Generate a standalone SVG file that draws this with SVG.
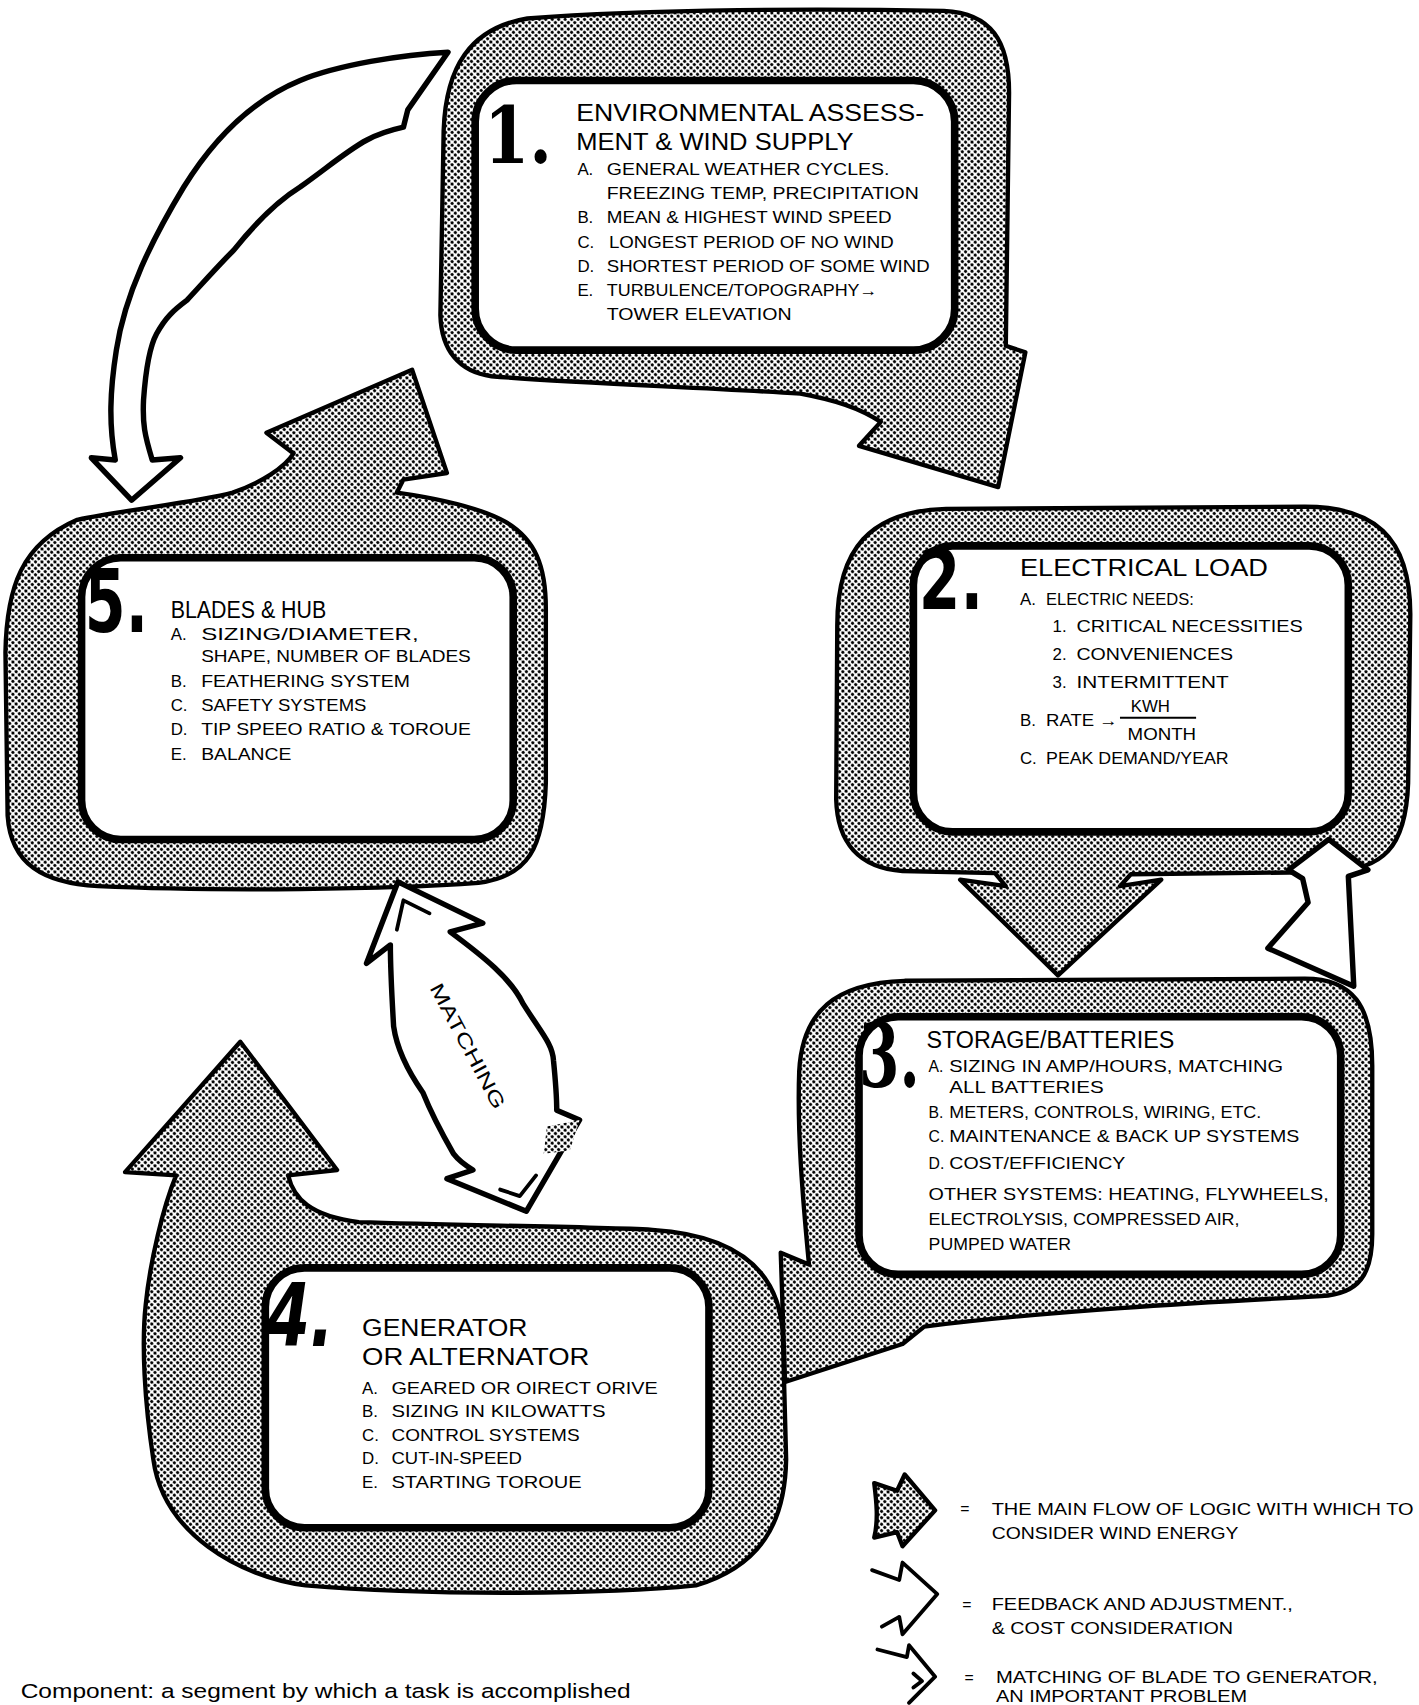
<svg xmlns="http://www.w3.org/2000/svg" width="1419" height="1705" viewBox="0 0 1419 1705">
<defs>
<pattern id="ht" width="4.2" height="4.2" patternUnits="userSpaceOnUse" patternTransform="rotate(45)">
<rect width="4.2" height="4.2" fill="#fff"/>
<circle cx="2.1" cy="2.1" r="1.5" fill="#000"/>
</pattern>
</defs>
<style>
.gray{fill:url(#ht);stroke:#000;stroke-width:4;stroke-linejoin:round}
.box{fill:#fff;stroke:#000;stroke-width:7}
.wa{fill:#fff;stroke:#000;stroke-width:5;stroke-linejoin:round}
.ln{fill:none;stroke:#000;stroke-width:3.5;stroke-linejoin:round;stroke-linecap:round}
.t{font-family:"Liberation Sans",Arial,sans-serif;fill:#000}
.ti{font-size:22px}
.it{font-size:15.5px}
.sm{font-size:14.5px}
.num{font-family:"DejaVu Sans",sans-serif;font-weight:bold;font-size:50px;fill:#000}
.nums{font-family:"DejaVu Serif",serif;font-weight:bold;font-size:50px;fill:#000}
</style>
<rect width="1419" height="1705" fill="#fff"/>
<g transform="scale(1.08736)">

<g id="node4">
<path class="gray" d="M221,958 L310,1076 L265,1081 C270,1102 285,1118 330,1124 C420,1127 540,1128 600,1131 C680,1136 718,1170 720,1230 L723,1342 C722,1400 700,1440 640,1458 C560,1466 400,1468 281,1458 C220,1450 150,1410 141,1342 C133,1290 130,1236 134,1200 C138,1160 150,1110 162,1081 L115,1078 Z"/>
<rect class="box" x="244" y="1166" width="408" height="239" rx="36"/>
<text class="num" font-style="italic" transform="translate(245,1238) scale(1.15,1.6)">4.</text>
<text class="t ti" x="333" y="1229" textLength="152" lengthAdjust="spacingAndGlyphs">GENERATOR</text>
<text class="t ti" x="333" y="1255" textLength="209" lengthAdjust="spacingAndGlyphs">OR ALTERNATOR</text>
<text class="t it" y="1282"><tspan x="333">A.</tspan><tspan x="360" textLength="245" lengthAdjust="spacingAndGlyphs">GEARED OR OIRECT ORIVE</tspan></text>
<text class="t it" y="1303"><tspan x="333">B.</tspan><tspan x="360" textLength="197" lengthAdjust="spacingAndGlyphs">SIZING IN KILOWATTS</tspan></text>
<text class="t it" y="1325"><tspan x="333">C.</tspan><tspan x="360" textLength="173" lengthAdjust="spacingAndGlyphs">CONTROL SYSTEMS</tspan></text>
<text class="t it" y="1346"><tspan x="333">D.</tspan><tspan x="360" textLength="120" lengthAdjust="spacingAndGlyphs">CUT-IN-SPEED</tspan></text>
<text class="t it" y="1368"><tspan x="333">E.</tspan><tspan x="360" textLength="175" lengthAdjust="spacingAndGlyphs">STARTING TOROUE</tspan></text>
</g>

<g id="node3">
<path class="gray" d="M735,985 C738,930 768,904 832,902 L1200,900 C1244,900 1262,925 1262,980 L1262,1135 C1262,1172 1250,1190 1215,1192 C1100,1198 960,1206 850,1220 L830,1236 L722,1271 L718,1152 L744,1163 C738,1100 733,1040 735,985 Z"/>
<rect class="box" x="790" y="935" width="443" height="237" rx="36"/>
<text class="nums" transform="translate(790,1000) scale(1.07,1.62)">3.</text>
<text class="t ti" x="852" y="964" textLength="228" lengthAdjust="spacingAndGlyphs">STORAGE/BATTERIES</text>
<text class="t sm" y="986"><tspan x="854">A.</tspan><tspan x="873" textLength="307" lengthAdjust="spacingAndGlyphs">SIZING IN AMP/HOURS, MATCHING</tspan></text>
<text class="t sm" x="873" y="1005" textLength="142" lengthAdjust="spacingAndGlyphs">ALL BATTERIES</text>
<text class="t sm" y="1028"><tspan x="854">B.</tspan><tspan x="873" textLength="287" lengthAdjust="spacingAndGlyphs">METERS, CONTROLS, WIRING, ETC.</tspan></text>
<text class="t sm" y="1050"><tspan x="854">C.</tspan><tspan x="873" textLength="322" lengthAdjust="spacingAndGlyphs">MAINTENANCE &amp; BACK UP SYSTEMS</tspan></text>
<text class="t sm" y="1075"><tspan x="854">D.</tspan><tspan x="873" textLength="162" lengthAdjust="spacingAndGlyphs">COST/EFFICIENCY</tspan></text>
<text class="t sm" x="854" y="1104" textLength="368" lengthAdjust="spacingAndGlyphs">OTHER SYSTEMS: HEATING, FLYWHEELS,</text>
<text class="t sm" x="854" y="1127" textLength="286" lengthAdjust="spacingAndGlyphs">ELECTROLYSIS, COMPRESSED AIR,</text>
<text class="t sm" x="854" y="1150" textLength="131" lengthAdjust="spacingAndGlyphs">PUMPED WATER</text>
</g>

<g id="node2">
<path class="gray" d="M770,575 C770,505 800,470 870,468 L1200,466 C1262,466 1297,492 1297,565 L1295,720 C1293,780 1272,800 1222,802 L1040,804 L1030,815 L1068,809 L973,897 L883,809 L925,815 L915,803 L830,801 C790,798 770,775 769,735 Z"/>
<rect class="box" x="840" y="502" width="400" height="263" rx="36"/>
<text class="num" transform="translate(845,560) scale(1.1,1.55)">2.</text>
<text class="t ti" x="938" y="530" textLength="228" lengthAdjust="spacingAndGlyphs">ELECTRICAL LOAD</text>
<text class="t it" y="556"><tspan x="938">A.</tspan><tspan x="962" textLength="136" lengthAdjust="spacingAndGlyphs">ELECTRIC NEEDS:</tspan></text>
<text class="t it" y="581"><tspan x="968">1.</tspan><tspan x="990" textLength="208" lengthAdjust="spacingAndGlyphs">CRITICAL NECESSITIES</tspan></text>
<text class="t it" y="607"><tspan x="968">2.</tspan><tspan x="990" textLength="144" lengthAdjust="spacingAndGlyphs">CONVENIENCES</tspan></text>
<text class="t it" y="633"><tspan x="968">3.</tspan><tspan x="990" textLength="140" lengthAdjust="spacingAndGlyphs">INTERMITTENT</tspan></text>
<text class="t it" y="668"><tspan x="938">B.</tspan><tspan x="962" textLength="66" lengthAdjust="spacingAndGlyphs">RATE →</tspan></text>
<text class="t sm" x="1040" y="655" textLength="36" lengthAdjust="spacingAndGlyphs">KWH</text>
<line x1="1030" y1="660" x2="1100" y2="660" stroke="#000" stroke-width="1.8"/>
<text class="t sm" x="1037" y="681" textLength="63" lengthAdjust="spacingAndGlyphs">MONTH</text>
<text class="t it" y="703"><tspan x="938">C.</tspan><tspan x="962" textLength="168" lengthAdjust="spacingAndGlyphs">PEAK DEMAND/YEAR</tspan></text>
</g>

<g id="node5">
<path class="gray" d="M379,340 L411,435 L371,441 L365,453 C400,458 440,466 465,480 C492,496 502,520 502,560 L502,720 C500,780 486,806 440,812 C360,818 200,820 90,815 C40,812 10,795 7,750 L5,600 C6,540 20,500 71,478 C120,468 180,462 214,453 C240,444 262,430 270,417 L245,398 Z"/>
<rect class="box" x="75" y="513" width="397" height="259" rx="36"/>
<text class="num" transform="translate(78,581) scale(1.08,1.6)">5.</text>
<text class="t ti" x="157" y="568" textLength="143" lengthAdjust="spacingAndGlyphs">BLADES &amp; HUB</text>
<text class="t it" y="589"><tspan x="157">A.</tspan><tspan x="185" textLength="200" lengthAdjust="spacingAndGlyphs">SIZING/DIAMETER,</tspan></text>
<text class="t it" x="185" y="609" textLength="248" lengthAdjust="spacingAndGlyphs">SHAPE, NUMBER OF BLADES</text>
<text class="t it" y="632"><tspan x="157">B.</tspan><tspan x="185" textLength="192" lengthAdjust="spacingAndGlyphs">FEATHERING SYSTEM</tspan></text>
<text class="t it" y="654"><tspan x="157">C.</tspan><tspan x="185" textLength="152" lengthAdjust="spacingAndGlyphs">SAFETY SYSTEMS</tspan></text>
<text class="t it" y="676"><tspan x="157">D.</tspan><tspan x="185" textLength="248" lengthAdjust="spacingAndGlyphs">TIP SPEEO RATIO &amp; TOROUE</tspan></text>
<text class="t it" y="699"><tspan x="157">E.</tspan><tspan x="185" textLength="83" lengthAdjust="spacingAndGlyphs">BALANCE</tspan></text>
</g>

<g id="node1">
<path class="gray" d="M408,120 C410,62 432,26 485,17 C600,8 760,8 868,10 C912,12 928,38 928,85 L925,318 L943,324 L918,448 L790,410 L810,388 C790,375 768,368 736,362 C640,356 520,352 452,346 C422,342 406,322 405,290 Z"/>
<rect class="box" x="437" y="74" width="441" height="248" rx="38"/>
<text class="nums" transform="translate(445,150) scale(1.2,1.45)">1.</text>
<text class="t ti" x="530" y="111" textLength="320" lengthAdjust="spacingAndGlyphs">ENVIRONMENTAL ASSESS-</text>
<text class="t ti" x="530" y="138" textLength="255" lengthAdjust="spacingAndGlyphs">MENT &amp; WIND SUPPLY</text>
<text class="t it" y="161"><tspan x="531">A.</tspan><tspan x="558" textLength="260" lengthAdjust="spacingAndGlyphs">GENERAL WEATHER CYCLES.</tspan></text>
<text class="t it" x="558" y="183" textLength="287" lengthAdjust="spacingAndGlyphs">FREEZING TEMP, PRECIPITATION</text>
<text class="t it" y="205"><tspan x="531">B.</tspan><tspan x="558" textLength="262" lengthAdjust="spacingAndGlyphs">MEAN &amp; HIGHEST WIND SPEED</tspan></text>
<text class="t it" y="228"><tspan x="531">C.</tspan><tspan x="560" textLength="262" lengthAdjust="spacingAndGlyphs">LONGEST PERIOD OF NO WIND</tspan></text>
<text class="t it" y="250"><tspan x="531">D.</tspan><tspan x="558" textLength="297" lengthAdjust="spacingAndGlyphs">SHORTEST PERIOD OF SOME WIND</tspan></text>
<text class="t it" y="272"><tspan x="531">E.</tspan><tspan x="558" textLength="249" lengthAdjust="spacingAndGlyphs">TURBULENCE/TOPOGRAPHY→</tspan></text>
<text class="t it" x="558" y="294" textLength="170" lengthAdjust="spacingAndGlyphs">TOWER ELEVATION</text>
</g>

<g id="connectors">
<path id="feedback-1-5" class="wa" d="M412,48 C370,50 310,60 276,74 C230,93 195,130 169,172 C140,220 115,270 107,322 C101,360 100,390 106,423 L84,421 L121,460 L166,421 L140,423 C133,400 131,390 132,368 C134,340 138,318 144,307 C152,292 160,285 172,276 C185,262 200,245 215,230 C235,205 255,185 276,172 C300,155 320,138 337,129 C350,122 362,119 371,117 L375,101 Z"/>
<path id="feedback-3-2" class="wa" d="M1222,772 L1258,800 L1240,806 L1245,907 L1166,872 L1203,830 L1198,808 L1185,800 Z"/>
<g id="matching-5-4">
<path class="wa" d="M366,811 L444,849 L414,857 C445,880 470,900 481,923 C498,950 508,960 509,975 C511,995 512,1010 512,1021 L533,1030 L484,1114 L411,1084 L435,1076 C425,1070 420,1065 417,1061 C405,1040 395,1020 389,1005 C375,985 365,965 362,944 C360,910 359,890 359,869 L337,886 Z"/>
<path class="ln" d="M395,840 L371,828 L365,855"/>
<path class="ln" d="M460,1094 L478,1100 L493,1081"/>
<path d="M503,1036 L533,1030 L524,1058 L500,1061 Z" fill="url(#ht)"/>
<text class="t" font-size="18" text-anchor="middle" transform="translate(430,962) rotate(62)" y="6" textLength="128" lengthAdjust="spacingAndGlyphs">MATCHING</text>
</g>
</g>

<g id="legend">
<path class="gray" d="M804,1364 L825,1371 L832,1356 L860,1389 L830,1422 L825,1409 L804,1414 C808,1398 806,1380 804,1364 Z"/>
<text class="t sm" x="883" y="1392">=</text>
<text class="t it" x="912" y="1393" textLength="388" lengthAdjust="spacingAndGlyphs">THE MAIN FLOW OF LOGIC WITH WHICH TO</text>
<text class="t it" x="912" y="1415" textLength="227" lengthAdjust="spacingAndGlyphs">CONSIDER WIND ENERGY</text>
<polyline class="ln" points="802,1444 827,1453 830,1437 862,1466 830,1503 827,1487 811,1496"/>
<text class="t sm" x="885" y="1481">=</text>
<text class="t it" x="912" y="1481" textLength="277" lengthAdjust="spacingAndGlyphs">FEEDBACK AND ADJUSTMENT.,</text>
<text class="t it" x="912" y="1503" textLength="222" lengthAdjust="spacingAndGlyphs">&amp; COST CONSIDERATION</text>
<polyline class="ln" points="807,1517 834,1524 836,1513 860,1542 836,1566"/>
<polyline class="ln" points="840,1539 848,1546 840,1552"/>
<text class="t sm" x="887" y="1548">=</text>
<text class="t it" x="916" y="1548" textLength="351" lengthAdjust="spacingAndGlyphs">MATCHING OF BLADE TO GENERATOR,</text>
<text class="t it" x="916" y="1565" textLength="231" lengthAdjust="spacingAndGlyphs">AN IMPORTANT PROBLEM</text>
</g>

<text id="caption" class="t" font-size="19" x="19" y="1562" textLength="561" lengthAdjust="spacingAndGlyphs">Component: a segment by which a task is accomplished</text>
</g>
</svg>
